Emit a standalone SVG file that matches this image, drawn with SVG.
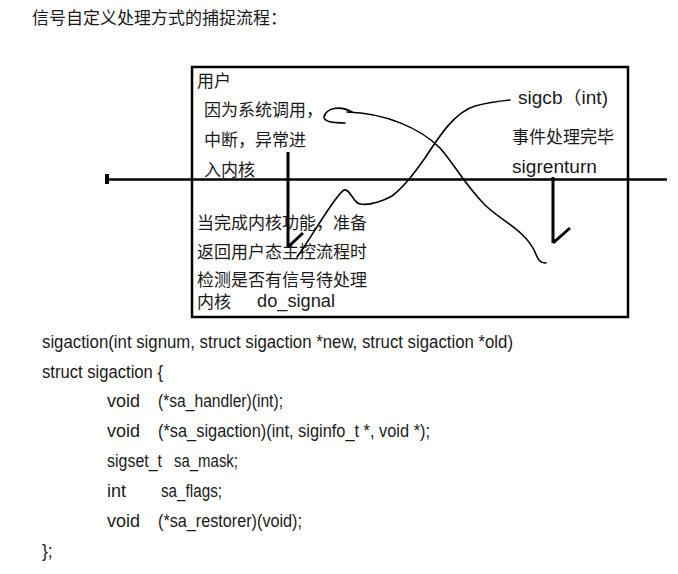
<svg xmlns="http://www.w3.org/2000/svg" width="678" height="574" viewBox="0 0 678 574">
<style>
.cjk{font-family:"Noto Sans CJK SC","Liberation Sans",sans-serif;font-size:17px;fill:#1a1a1a}
.lat{font-family:"Liberation Sans","Noto Sans CJK SC",sans-serif;font-size:17.5px;fill:#1a1a1a}
.thick{stroke:#000;stroke-width:3;fill:none;stroke-linecap:butt}
.curve{stroke:#000;stroke-width:1.6;fill:none;stroke-linecap:round;stroke-linejoin:round}
</style>
<rect width="678" height="574" fill="#fff"/>
<text class="cjk" x="32" y="24" font-size="17">信号自定义处理方式的捕捉流程：</text>
<g id="box">
<rect x="192" y="67" width="436" height="250" fill="none" stroke="#000" stroke-width="2.5"/>
</g>
<g id="divider">
<line x1="107" y1="179.5" x2="667" y2="179.5" stroke="#000" stroke-width="2.5"/>
<rect x="105" y="174" width="4" height="10" fill="#000"/>
</g>
<g id="user-labels">
<text class="cjk" x="197" y="87">用户</text>
<text class="cjk" x="204" y="116">因为系统调用，</text>
<text class="cjk" x="204" y="146">中断，异常进</text>
<text class="cjk" x="204" y="176">入内核</text>
<text class="lat" x="518" y="104" textLength="90" lengthAdjust="spacingAndGlyphs">sigcb<tspan font-family="Noto Sans CJK SC">（</tspan>int)</text>
<text class="cjk" x="512" y="143">事件处理完毕</text>
<text class="lat" x="512" y="173" textLength="85" lengthAdjust="spacingAndGlyphs">sigrenturn</text>
</g>
<g id="kernel-labels">
<text class="cjk" x="197" y="229">当完成内核功能，准备</text>
<text class="cjk" x="197" y="258">返回用户态主控流程时</text>
<text class="cjk" x="197" y="286">检测是否有信号待处理</text>
<text class="cjk" x="197" y="308">内核</text>
<text class="lat" x="257" y="307" textLength="78" lengthAdjust="spacingAndGlyphs">do_signal</text>
</g>
<g id="connectors">
<path class="thick" d="M288,152 L288,247 M288,247 L303,233"/>
<path class="thick" d="M553,177 L553,243 M553,243 L570,228"/>
<path class="curve" d="M297,257 C310,240 335,195 344,190 C350,188 353,203 360,204 C370,206 385,200 392,196 C405,186 415,172 425,158 C440,135 455,112 475,106 C490,102 500,101 510,100"/>
<path class="curve" d="M352,112 C340,105 326,108 324,117 C324,123 338,123 345,123"/>
<path class="curve" d="M347,112 C385,113 420,128 440,148 C455,165 465,185 485,205 C500,220 525,230 535,252 C538,260 540,263 546,263"/>
</g>
<g id="code">
<text class="lat" x="42" y="348" textLength="471" lengthAdjust="spacingAndGlyphs">sigaction(int signum, struct sigaction *new, struct sigaction *old)</text>
<text class="lat" x="42" y="378" textLength="121" lengthAdjust="spacingAndGlyphs">struct sigaction {</text>
<text class="lat" x="107" y="407" textLength="33" lengthAdjust="spacingAndGlyphs">void</text>
<text class="lat" x="158" y="407" textLength="125" lengthAdjust="spacingAndGlyphs">(*sa_handler)(int);</text>
<text class="lat" x="107" y="437" textLength="33" lengthAdjust="spacingAndGlyphs">void</text>
<text class="lat" x="158" y="437" textLength="272" lengthAdjust="spacingAndGlyphs">(*sa_sigaction)(int, siginfo_t *, void *);</text>
<text class="lat" x="107" y="467" textLength="55" lengthAdjust="spacingAndGlyphs">sigset_t</text>
<text class="lat" x="174" y="467" textLength="64" lengthAdjust="spacingAndGlyphs">sa_mask;</text>
<text class="lat" x="107" y="497" textLength="19" lengthAdjust="spacingAndGlyphs">int</text>
<text class="lat" x="161" y="497" textLength="61" lengthAdjust="spacingAndGlyphs">sa_flags;</text>
<text class="lat" x="107" y="527" textLength="33" lengthAdjust="spacingAndGlyphs">void</text>
<text class="lat" x="158" y="527" textLength="144" lengthAdjust="spacingAndGlyphs">(*sa_restorer)(void);</text>
<text class="lat" x="42" y="557">};</text>
</g>
</svg>
